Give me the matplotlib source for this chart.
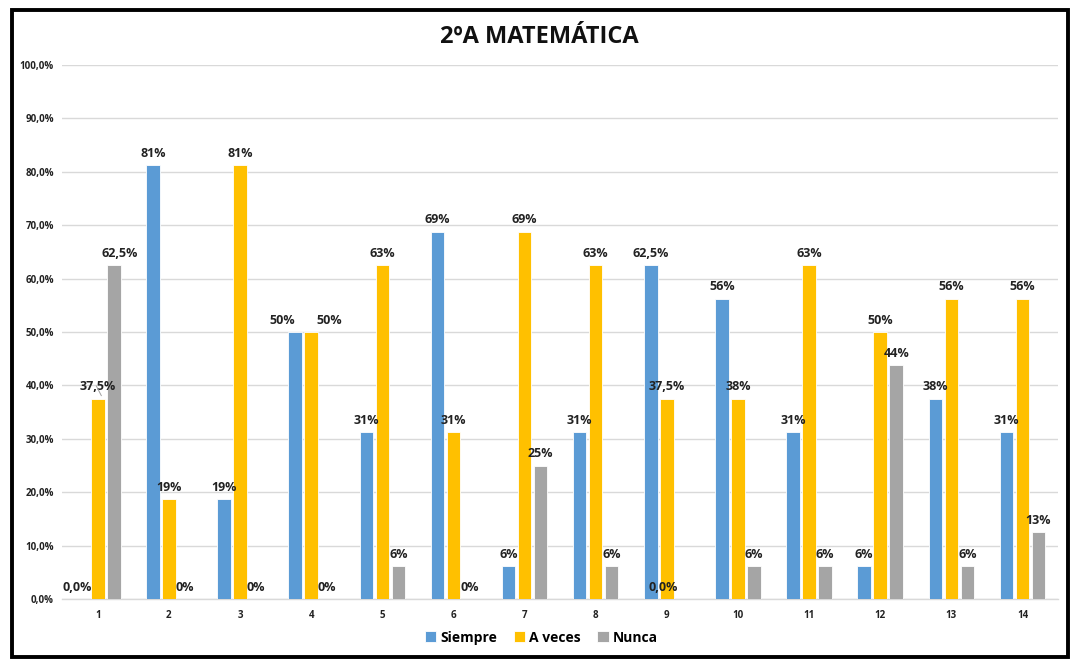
import numpy as np
import matplotlib
matplotlib.use('Agg')
import matplotlib.pyplot as plt
from matplotlib.patches import Rectangle

plt.rcParams['font.family'] = ['Open Sans', 'DejaVu Sans']

groups = [str(i) for i in range(1, 15)]
siempre = [0.0, 81.25, 18.75, 50.0, 31.25, 68.75, 6.25, 31.25, 62.5, 56.25, 31.25, 6.25, 37.5, 31.25]
a_veces = [37.5, 18.75, 81.25, 50.0, 62.5, 31.25, 68.75, 62.5, 37.5, 37.5, 62.5, 50.0, 56.25, 56.25]
nunca = [62.5, 0.0, 0.0, 0.0, 6.25, 0.0, 25.0, 6.25, 0.0, 6.25, 6.25, 43.75, 6.25, 12.5]

siempre_lbl = ['0,0%', '81%', '19%', '50%', '31%', '69%', '6%', '31%', '62,5%', '56%', '31%', '6%', '38%', '31%']
a_veces_lbl = ['37,5%', '19%', '81%', '50%', '63%', '31%', '69%', '63%', '37,5%', '38%', '63%', '50%', '56%', '56%']
nunca_lbl = ['62,5%', '0%', '0%', '0%', '6%', '0%', '25%', '6%', '0,0%', '6%', '6%', '44%', '6%', '13%']

colors = ['#5B9BD5', '#FFC000', '#A5A5A5']
names = ['Siempre', 'A veces', 'Nunca']

fig = plt.figure(figsize=(10.72, 6.6), dpi=100)
ax = fig.add_axes([0.058, 0.092, 0.929, 0.81])

x = np.arange(len(groups))
w = 0.19
step = 0.225
series = [(siempre, siempre_lbl), (a_veces, a_veces_lbl), (nunca, nunca_lbl)]
# small sideways nudges where Excel moved labels apart (series index, group index) -> x shift
nudge = {(0, 3): -0.18, (1, 3): 0.25, (0, 0): -0.06, (2, 0): 0.08, (2, 8): -0.28}
for i, (vals, lbls) in enumerate(series):
    pos = x + (i - 1) * step
    ax.bar(pos, vals, width=w, color=colors[i], edgecolor='white', linewidth=0.6,
           label=names[i], zorder=3)
    for j, (p, v, t) in enumerate(zip(pos, vals, lbls)):
        ax.text(p + nudge.get((i, j), 0), v + 1.0, t, ha='center', va='bottom', fontsize=9,
                fontweight='bold', color='#222222', zorder=4)

# leader line for the lifted 37,5% label of group 1
ax.plot([x[0] - 0.02, x[0] + 0.05], [a_veces[0] + 2.4, a_veces[0] + 0.6], color='#A0A0A0',
        linewidth=0.7, zorder=4)

ax.set_xlim(-0.5, len(groups) - 0.5)
ax.set_ylim(0, 100)
ax.set_yticks(np.arange(0, 101, 10))
ax.set_yticklabels([f'{v:.1f}%'.replace('.', ',') for v in np.arange(0, 101, 10)])
ax.set_xticks(x)
ax.set_xticklabels(groups)
for lab in ax.get_xticklabels() + ax.get_yticklabels():
    lab.set_fontweight('bold')
    lab.set_fontsize(7)
    lab.set_color('#222222')
ax.tick_params(axis='both', length=0)
ax.tick_params(axis='x', pad=8)
ax.tick_params(axis='y', pad=6)
ax.grid(axis='y', color='#D9D9D9', linewidth=1, zorder=0)
for s in ['top', 'right', 'left']:
    ax.spines[s].set_visible(False)
ax.spines['bottom'].set_color('#D9D9D9')
ax.spines['bottom'].set_linewidth(1)

fig.text(0.503, 0.944, '2ºA MATEMÁTICA', ha='center', va='center', fontsize=17,
         fontweight='bold', color='#111111')

leg = fig.legend(loc='center', bbox_to_anchor=(0.505, 0.034), ncol=3, frameon=False,
                 prop={'weight': 'bold', 'size': 10}, handlelength=0.8, handleheight=0.8,
                 handletextpad=0.3, columnspacing=1.2)

fig.patches.append(Rectangle((0.011, 0.005), 0.985, 0.98, transform=fig.transFigure,
                             fill=False, edgecolor='black', linewidth=2.8))

fig.savefig('out.png', dpi=100)
